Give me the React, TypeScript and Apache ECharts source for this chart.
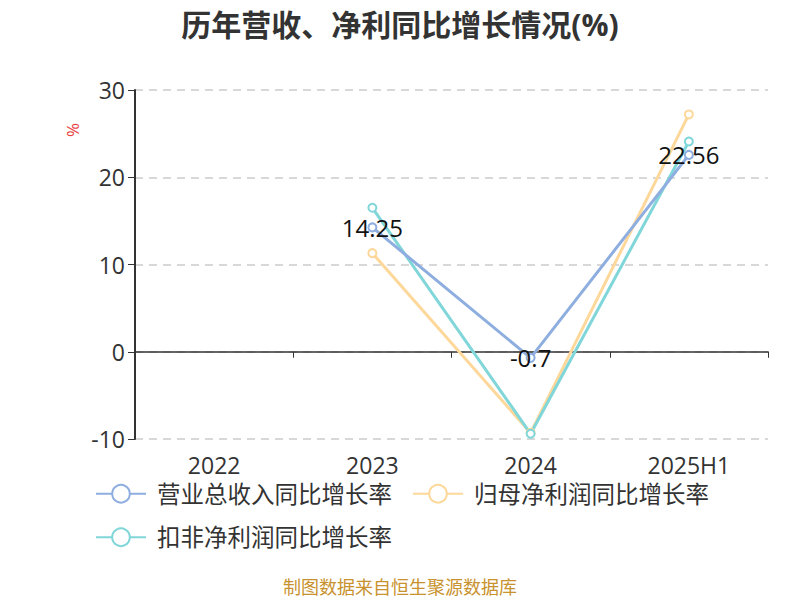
import React, { useEffect, useRef } from "react";
import * as echarts from "echarts";

const categories = ["2022", "2023", "2024", "2025H1"];
const revenueGrowth = [null, 14.25, -0.7, 22.56];
const netProfitGrowth = [null, 11.3, -9.3, 27.2];
const deductedProfitGrowth = [null, 16.5, -9.4, 24.1];
const seriesNames = ["营业总收入同比增长率", "归母净利润同比增长率", "扣非净利润同比增长率"];
const yTicks = { min: -10, max: 30, interval: 10 };

export default function App() {
  const ref = useRef<HTMLDivElement>(null);
  useEffect(() => {
    const chart = echarts.init(ref.current!, null, { renderer: "svg" });
    const font = "'Open Sans', 'Noto Sans CJK SC', sans-serif";
    const mk = (name: string, data: any[], color: string, label: boolean) => ({
      name,
      type: "line",
      data,
      xAxisIndex: 0,
      symbol: "emptyCircle",
      symbolSize: 8,
      lineStyle: { color, width: 3 },
      itemStyle: { color, borderWidth: 2 },
      label: label
        ? { show: true, position: "inside", color: "#111", fontSize: 24, fontFamily: font }
        : { show: false },
      z: label ? 3 : 2,
    });
    chart.setOption({
      animation: false,
      backgroundColor: "#fff",
      textStyle: { fontFamily: font },
      title: {
        text: "历年营收、净利同比增长情况(%)",
        left: "center",
        top: 4,
        textStyle: { fontSize: 30, fontWeight: "bold", color: "#333", fontFamily: font },
      },
      graphic: [
        {
          type: "text",
          left: "center",
          top: 578,
          style: { text: "制图数据来自恒生聚源数据库", fill: "#c8922e", fontSize: 18, fontFamily: font },
        },
        {
          type: "text",
          x: 72,
          y: 130,
          rotation: Math.PI / 2,
          style: { text: "%", fill: "#e84040", fontSize: 17, align: "center", verticalAlign: "middle", fontFamily: font },
        },
      ],
      legend: {
        left: 90,
        top: 477,
        width: 660,
        itemWidth: 50,
        itemHeight: 22,
        itemGap: 20,
        textStyle: { fontSize: 23.5, color: "#333", padding: [0, 0, 0, 6], fontFamily: font },
        data: seriesNames,
      },
      grid: { left: 135, right: 32, top: 90, bottom: 161 },
      xAxis: [
        {
          type: "category",
          data: categories,
          position: "bottom",
          axisLine: { show: false, onZero: false },
          axisTick: { show: false },
          axisLabel: { fontSize: 23, color: "#333", margin: 14, fontFamily: font },
          splitLine: { show: false },
        },
        {
          type: "category",
          data: categories,
          position: "bottom",
          axisLine: { show: true, onZero: true, lineStyle: { color: "#333", width: 1.5 } },
          axisTick: { show: true, inside: false, length: 6, lineStyle: { color: "#333" } },
          axisLabel: { show: false },
          splitLine: { show: false },
        },
      ],
      yAxis: {
        type: "value",
        min: yTicks.min,
        max: yTicks.max,
        interval: yTicks.interval,
        axisLine: { show: true, lineStyle: { color: "#333", width: 2 } },
        axisTick: { show: true, length: 7, lineStyle: { color: "#333" } },
        axisLabel: { fontSize: 23, color: "#333", margin: 10, fontFamily: font },
        splitLine: { show: true, lineStyle: { color: "#ccc", type: [8, 6], width: 1.5 } },
      },
      series: [
        mk(seriesNames[0], revenueGrowth, "#8eaee0", true),
        mk(seriesNames[1], netProfitGrowth, "#fdd89a", false),
        mk(seriesNames[2], deductedProfitGrowth, "#80d6d8", false),
      ],
    });
    return () => chart.dispose();
  }, []);
  return <div ref={ref} style={{ width: 800, height: 600, position: "absolute", left: 0, top: 0 }} />;
}
